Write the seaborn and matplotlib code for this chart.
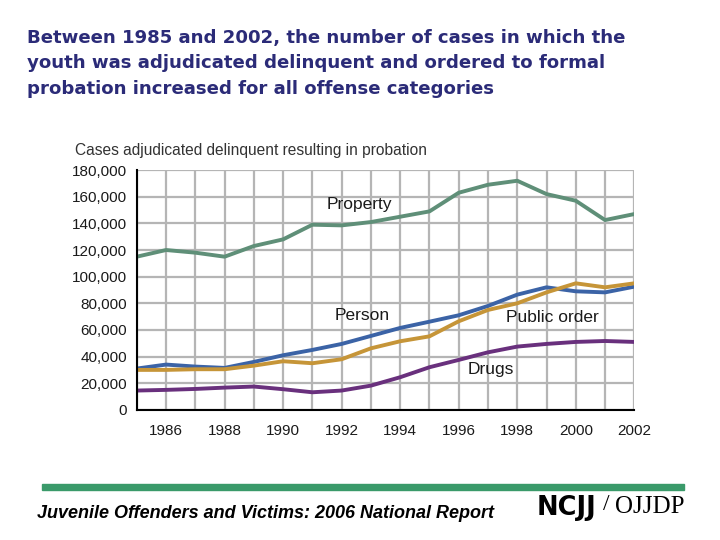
import matplotlib
matplotlib.use("Agg")
import matplotlib.pyplot as plt
import seaborn as sns
import pandas as pd

# data
years = list(range(1985, 2003))
property_cases = [115000, 120000, 118000, 115000, 123000, 128000, 139000, 138500, 141000,
                  145000, 149000, 163000, 169000, 172000, 162000, 157000, 142500, 147000]
person_cases = [31000, 34000, 32500, 31500, 36000, 41000, 45000, 49500, 55500,
                61500, 66200, 71000, 78000, 86500, 92000, 89000, 88200, 92500]
public_order_cases = [30000, 30000, 30500, 30500, 33200, 36500, 35000, 38000, 46200,
                      51500, 55200, 66500, 75000, 80000, 88200, 95000, 92000, 95000]
drugs_cases = [14500, 15000, 15700, 16700, 17500, 15500, 13200, 14500, 18200,
               24500, 32000, 37500, 43200, 47500, 49500, 51000, 51700, 51000]

series_names = ["Property", "Person", "Public order", "Drugs"]
colors = ["#5f8f78", "#3b63a6", "#c69538", "#69307d"]

df = pd.DataFrame({
    "year": years * 4,
    "cases": property_cases + person_cases + public_order_cases + drugs_cases,
    "offense": [n for n in series_names for _ in years],
})

sns.set_theme(style="white")
plt.rcParams["font.family"] = ["Liberation Sans", "DejaVu Sans"]

fig = plt.figure(figsize=(7.2, 5.4), dpi=100)
ax = fig.add_axes([0.190, 0.241, 0.691, 0.444])

sns.lineplot(data=df, x="year", y="cases", hue="offense", hue_order=series_names,
             palette=colors, linewidth=2.8, legend=False, ax=ax)

ax.set_xlim(1985, 2002)
ax.set_ylim(0, 180000)
ax.set_xticks(range(1986, 2003, 2))
ax.set_xticks(years, minor=True)
ax.set_yticks(range(0, 180001, 20000))
ax.set_yticklabels([f"{v:,}" for v in range(0, 180001, 20000)])
ax.grid(True, which="both", color="#b5b5b5", linewidth=1.6)
ax.set_axisbelow(True)
for side in ["top", "right"]:
    ax.spines[side].set_visible(False)
for side in ["left", "bottom"]:
    ax.spines[side].set_color("black")
    ax.spines[side].set_linewidth(1.5)
ax.tick_params(axis="both", which="both", direction="out", length=4, width=1,
               color="black", labelsize=11, labelcolor="#1a1a1a", pad=3)
ax.tick_params(axis="x", pad=6)
ax.set_xlabel("")
ax.set_ylabel("")

# series labels
lab = dict(fontsize=12.5, color="#1a1a1a", ha="center", va="center")
ax.text(1992.6, 153800, "Property", **lab)
ax.text(1992.7, 70500, "Person", **lab)
ax.text(1999.2, 69000, "Public order", **lab)
ax.text(1997.1, 30000, "Drugs", **lab)

fig.text(75 / 720, 1 - 151 / 540, "Cases adjudicated delinquent resulting in probation",
         fontsize=11.2, color="#333333", ha="left", va="center")

fig.text(27 / 720, 1 - 63.5 / 540,
         "Between 1985 and 2002, the number of cases in which the\n"
         "youth was adjudicated delinquent and ordered to formal\n"
         "probation increased for all offense categories",
         fontsize=13.1, fontweight="bold", family=["DejaVu Sans"], color="#2b2b78",
         ha="left", va="center", linespacing=1.56)

# footer
fig.patches.append(plt.Rectangle((42 / 720, 1 - 490 / 540), 642 / 720, 6 / 540,
                                 transform=fig.transFigure, color="#3a9a6a", zorder=0))
fig.text(37 / 720, 1 - 513 / 540, "Juvenile Offenders and Victims: 2006 National Report",
         fontsize=13, fontweight="bold", fontstyle="italic", color="black",
         ha="left", va="center")
fig.text(537 / 720, 1 - 508 / 540, "NCJJ", fontsize=18.5, fontweight="heavy",
         family=["DejaVu Sans"], color="black", ha="left", va="center")
fig.text(603 / 720, 1 - 504 / 540, "/", fontsize=17, family=["Liberation Serif"],
         color="black", ha="left", va="center")
fig.text(615 / 720, 1 - 507 / 540, "OJJDP", fontsize=18, family=["Liberation Serif"],
         color="black", ha="left", va="center")

fig.savefig("out.png", dpi=100, facecolor="white")
